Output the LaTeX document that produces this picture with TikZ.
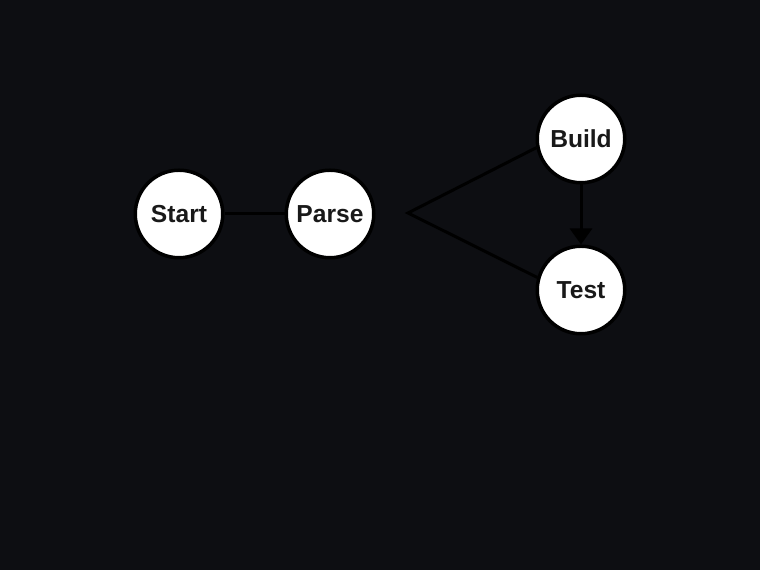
\documentclass[tikz,border=0pt]{standalone}
\usepackage{fontspec}
\setmainfont{Liberation Sans}
\usepackage{tikz}
\usetikzlibrary{arrows.meta,shapes,positioning}
\definecolor{bgdark}{HTML}{0D0E12}

\begin{document}
\begin{tikzpicture}[x=1cm,y=1cm,
		state/.style={circle,draw=black,fill=white,line width=0.035cm,minimum size=0.875cm,inner sep=0pt,font=\fontsize{7pt}{8pt}\selectfont\bfseries,text=black!90},
		link/.style={draw=black,line width=0.03cm}]
			\fill [bgdark] (0,0) rectangle (7.6,5.7);
			\useasboundingbox (0,0) rectangle (7.6,5.7);
			\node [state] (start) at (1.79,3.56) {Start};
			\node [state] (parse) at (3.30,3.56) {Parse};
			\node [state] (build) at (5.81,4.31) {Build};
			\node [state] (test) at (5.81,2.80) {Test};
			\coordinate (fork) at (4.08,3.57);
			\draw [link] (start) -- (parse);
			\draw [link] (build.191) -- (fork) -- (test.164);
			\draw [link,-{Triangle[width=0.22cm,length=0.16cm]}] (build) -- (test);
\end{tikzpicture}
\end{document}
